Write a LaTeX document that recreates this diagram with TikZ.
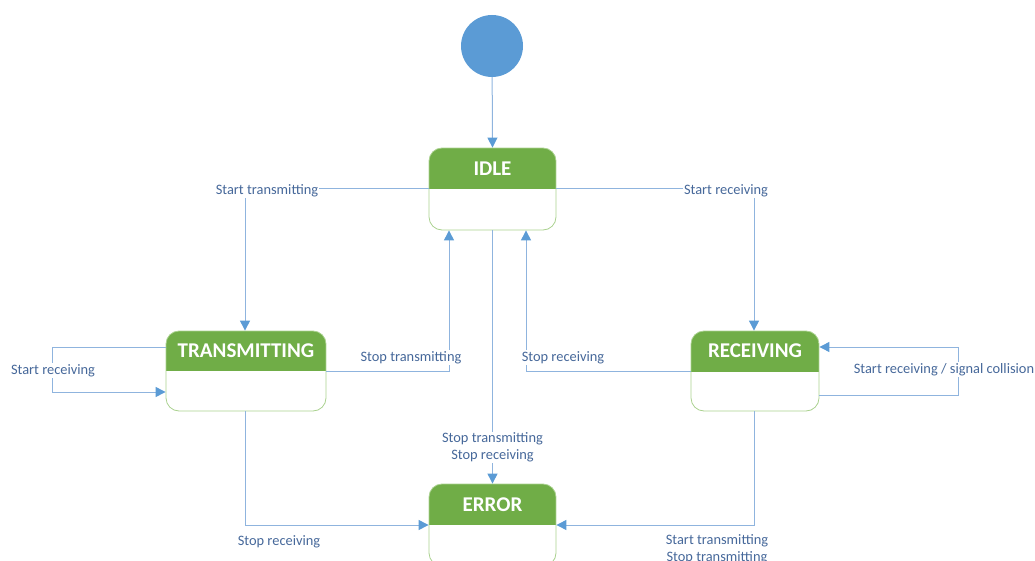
\documentclass[tikz,border=0pt]{standalone}
\usepackage{fontspec}
\setmainfont{Carlito}
\usetikzlibrary{arrows.meta,calc}

\definecolor{headgreen}{HTML}{70AD47}
\definecolor{edgegreen}{HTML}{A9D18E}
\definecolor{wire}{HTML}{8FB4DE}
\definecolor{tipblue}{HTML}{5B9BD5}
\definecolor{lbltext}{HTML}{46689A}

\tikzset{
  state/.style={draw=edgegreen, line width=0.8pt, rounded corners=13pt,
    minimum width=127pt, minimum height=82pt, inner sep=0pt,
    path picture={\fill[headgreen, sharp corners] (path picture bounding box.north west)
      rectangle ([yshift=-41pt]path picture bounding box.north east);}},
  widestate/.style={state, minimum width=160pt, minimum height=80pt,
    path picture={\fill[headgreen, sharp corners] (path picture bounding box.north west)
      rectangle ([yshift=-40pt]path picture bounding box.north east);}},
  head/.style={text=white, font=\fontsize{21}{24}\selectfont\bfseries, inner sep=0pt},
  conn/.style={draw=wire, line width=1pt,
    -{Triangle[length=10pt,width=10pt,fill=tipblue,color=tipblue]}},
  lbl/.style={fill=white, text=lbltext, inner sep=1pt, yshift=-1.5pt,
    font=\fontsize{14.4}{17.5}\selectfont, align=center},
}

\begin{document}
\begin{tikzpicture}[x=1pt,y=-1pt]
  \useasboundingbox (0,0) rectangle (1035,561);
  \clip (0,0) rectangle (1035,561);

  % initial pseudo-state
  \node[circle, fill=tipblue, minimum size=62pt, inner sep=0pt] (init) at (492,46) {};

  % states
  \node[state] (idle) at (492.5,189) {};
  \node[head] (idlehead) at ($(idle.north)+(0,21)$) {IDLE};

  \node[widestate] (trans) at (246,371) {};
  \node[head] (transhead) at ($(trans.north)+(0,20)$) {TRANSMITTING};

  \node[state, minimum width=128pt, minimum height=80pt] (recv) at (755,371) {};
  \node[head] (recvhead) at ($(recv.north)+(0,20)$) {RECEIVING};

  \node[state] (err) at (492.5,525) {};
  \node[head] (errhead) at ($(err.north)+(0,21)$) {ERROR};

  % transitions
  \draw[conn] (init) -- (idle.north);

  \draw[conn] (idle.west) -| (trans.north -| 245,0)
    node[lbl] (l1) at (267,189) {Start transmitting};

  \draw[conn] (idle.east) -| (recv.north -| 754,0)
    node[lbl] (l2) at (726,189) {Start receiving};

  \draw[conn] (trans.east) -| ($(idle.south)+(-43.5,0)$)
    node[lbl] (l3) at (411,356) {Stop transmitting};

  \draw[conn] (recv.west) -| ($(idle.south)+(33.5,0)$)
    node[lbl] (l4) at (563,356) {Stop receiving};

  \draw[conn] (idle.south) -- (err.north)
    node[lbl] (l5) at (492.5,446) {Stop transmitting\\Stop receiving};

  \draw[conn] ($(trans.west)+(0,-24)$) -- ++(-113,0) |- ($(trans.west)+(0,21)$)
    node[lbl] (l6) at (53,369) {Start receiving};

  \draw[conn] ($(recv.east)+(0,24)$) -- ++(139,0) |- ($(recv.east)+(0,-24)$)
    node[lbl] (l7) at (944,368) {Start receiving / signal collision};

  \draw[conn] (trans.south -| 245,0) |- (err.west)
    node[lbl, fill=none] (l8) at (279,540) {Stop receiving};

  \draw[conn] (recv.south -| 754,0) |- (err.east)
    node[lbl, fill=none] (l9) at (717,548) {Start transmitting\\Stop transmitting};
\end{tikzpicture}
\end{document}
